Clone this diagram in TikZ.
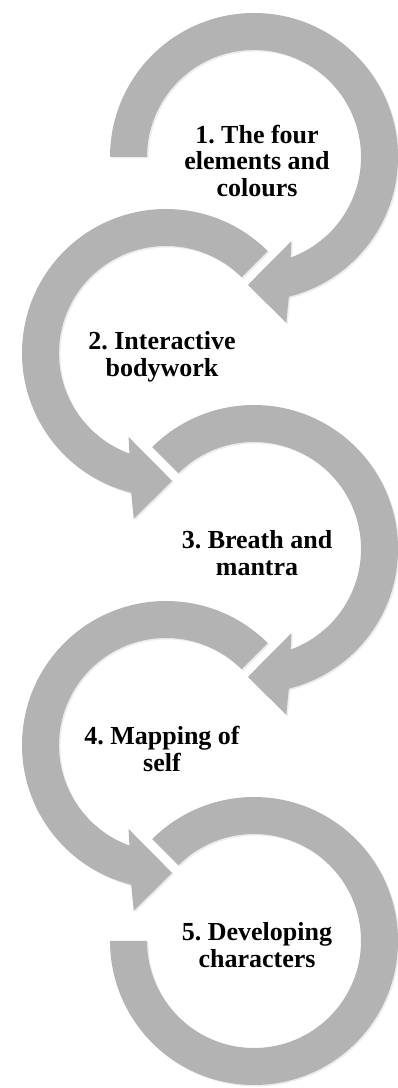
\documentclass[tikz,border=0pt]{standalone}
\usepackage{fontspec}
\setmainfont{Liberation Serif}
\usetikzlibrary{shadows}
\definecolor{ringgray}{RGB}{179,179,179}
\frenchspacing
% clockwise ring with head at the bottom: #1 centre, #2 start angle
\newcommand{\cwring}[2]{%
	\fill[ring style, shift={(#1)}] (#2:144) arc[start angle=#2, end angle=-76, radius=144]
		-- (-79:169) -- (-92.7:128) -- (-66:92) -- (-70:107)
		arc[start angle=-70, end angle=#2, radius=107] -- cycle;}
% counter-clockwise ring, mirrored
\newcommand{\ccwring}[2]{%
	\fill[ring style, shift={(#1)}] (#2:144) arc[start angle=#2, end angle=256, radius=144]
		-- (259:169) -- (272.7:128) -- (246:92) -- (250:107)
		arc[start angle=250, end angle=#2, radius=107] -- cycle;}
\begin{document}
\begin{tikzpicture}[x=1pt, y=1pt, line join=round]
	\tikzset{ring style/.style={fill=ringgray, drop shadow={shadow xshift=1.5pt, shadow yshift=-1.5pt, opacity=0.15}},
		step text/.style={align=center, yshift=-4pt, font=\bfseries\fontsize{26}{26.5}\selectfont}}
	\useasboundingbox (0,0) rectangle (398,1088);
	\coordinate (c1) at (254,931);
	\coordinate (c2) at (166,735);
	\coordinate (c3) at (254,539);
	\coordinate (c4) at (166,343);
	\coordinate (c5) at (254,147);
	\cwring{c1}{180}
	\ccwring{c2}{45}
	\cwring{c3}{135}
	\ccwring{c4}{45}
	\fill[ring style, shift={(c5)}] (135:144) arc[start angle=135, end angle=-180, radius=144]
		-- (180:107) arc[start angle=-180, end angle=135, radius=107] -- cycle;
	\node[step text, xshift=3pt] (t1) at (c1) {1. The four\\elements and\\colours};
	\node[step text, xshift=-4pt] (t2) at (c2) {2. Interactive\\bodywork};
	\node[step text, xshift=3pt] (t3) at (c3) {3. Breath and\\mantra};
	\node[step text, xshift=-4pt] (t4) at (c4) {4. Mapping of\\self};
	\node[step text, xshift=3pt] (t5) at (c5) {5. Developing\\characters};
\end{tikzpicture}
\end{document}
